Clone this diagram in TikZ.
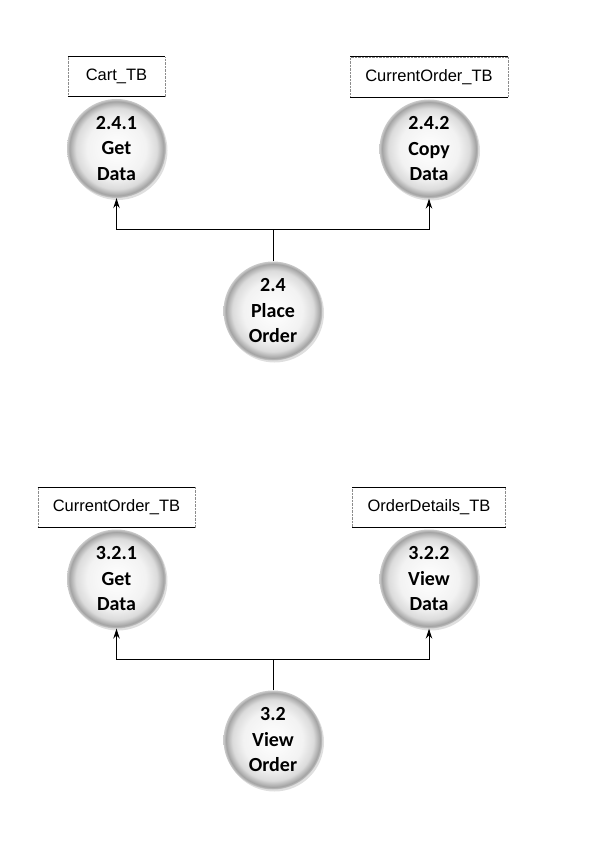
\documentclass[tikz,border=0pt]{standalone}
\usepackage{fontspec}
\setmainfont{Carlito}
\newfontfamily\tbfont{Liberation Sans}
\usetikzlibrary{positioning,shadows,arrows.meta}
\pgfdeclareradialshading{bubble}{\pgfpoint{0bp}{0bp}}{color(0bp)=(white);
    color(15bp)=(black!5); color(20.5bp)=(black!14); color(23.8bp)=(black!36);
    color(25bp)=(black!20); color(50bp)=(black!20)}
\tikzstyle{process} = [circle, minimum size=99pt, inner sep=0pt, shade, shading=bubble,%
    drop shadow={shadow xshift=1.5pt, shadow yshift=-2pt, opacity=0.25},
    align=center, font=\fontsize{20}{25.5}\selectfont\bfseries]
\tikzstyle{store} = [rectangle, minimum width=97pt, minimum height=40pt, inner xsep=15pt,
    draw=black!45, densely dotted, font=\tbfont\fontsize{16.5}{19}\selectfont,
    append after command={(\tikzlastnode.north west) edge[draw=black, solid, line width=0.8pt] (\tikzlastnode.north east)
    (\tikzlastnode.south west) edge[draw=black, solid, line width=0.8pt] (\tikzlastnode.south east)}]
\tikzstyle{line} = [line width=0.9pt]
\tikzstyle{arrow} = [line width=0.9pt, -{Stealth[length=10pt,width=6.5pt]}]
\begin{document}
\begin{tikzpicture}[x=1pt, y=-1pt, node distance=2pt]
    \useasboundingbox (0,0) rectangle (595,842);
    % place order
    \node (getdata1) [process] at (116.5,148.5) {2.4.1\\Get\\Data};
    \node (copydata) [process] at (429,149) {2.4.2\\Copy\\Data};
    \node (placeorder) [process] at (273,311) {2.4\\Place\\Order};
    \node (cart) [store, above=of getdata1] {Cart\_TB};
    \node (curorder1) [store, above=of copydata] {CurrentOrder\_TB};
    \coordinate (split1) at (273,229);
    \draw [line] (placeorder) -- (split1);
    \draw [arrow] (split1) -| (getdata1);
    \draw [arrow] (split1) -| (copydata);
    % view order
    \node (getdata2) [process] at (116.5,579) {3.2.1\\Get\\Data};
    \node (viewdata) [process] at (429,579) {3.2.2\\View\\Data};
    \node (vieworder) [process] at (273,740) {3.2\\View\\Order};
    \node (curorder2) [store, above=of getdata2] {CurrentOrder\_TB};
    \node (details) [store, above=of viewdata] {OrderDetails\_TB};
    \coordinate (split2) at (273,659);
    \draw [line] (vieworder) -- (split2);
    \draw [arrow] (split2) -| (getdata2);
    \draw [arrow] (split2) -| (viewdata);
\end{tikzpicture}
\end{document}
